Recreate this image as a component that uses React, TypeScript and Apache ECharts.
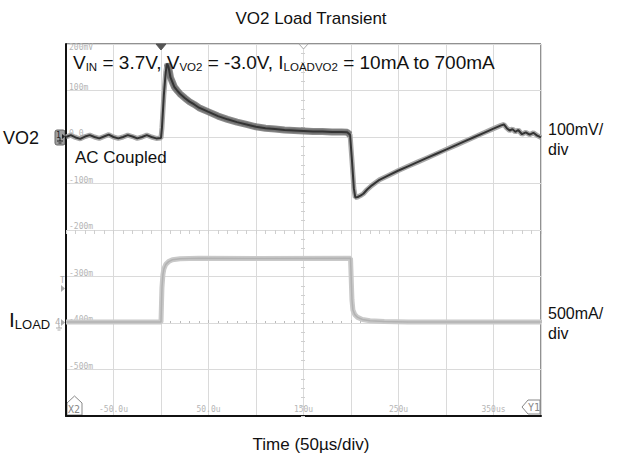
import React, { useEffect, useRef } from "react";
import * as echarts from "echarts";

// VO2 trace (time in µs, voltage in mV, AC coupled)
const timeVO2 = [
  -100, -95, -90, -85, -80, -75, -70, -65, -60, -55, -50, -45, -40, -35, -30, -25, -20, -15, -10, -5, 0,
  1, 3, 5, 6.5, 8, 10, 12, 14, 17, 20, 25, 30, 35, 40, 50, 60, 70, 80, 90, 100, 110, 120, 130, 140, 150,
  160, 170, 180, 190, 196, 199, 201, 203, 204.5, 207, 210, 213, 217, 222, 230, 240, 250, 260, 270, 280,
  290, 300, 310, 320, 330, 340, 350, 358, 361, 364, 367, 370, 373, 376, 380, 384, 388, 392, 396, 400,
];
const vo2mV = [
  0, 4, -1, -4, 1, 4, 0, -3, 1, 5, 0, -3, 0, 4, 1, -3, 0, 4, 0, -3, -2,
  20, 90, 140, 158, 150, 128, 118, 108, 100, 93, 84, 76, 70, 63, 54, 45, 38, 32, 27, 22, 19, 17, 15, 14, 13,
  12, 12, 11, 11, 10, 5, -50, -110, -130, -129, -126, -122, -113, -104, -92, -82, -72, -63, -54, -45,
  -36, -27, -18, -9, 0, 9, 18, 25, 27, 19, 14, 17, 11, 15, 6, 10, 5, 9, 3, -1,
];

// ILOAD trace (time in µs, current in mA)
const timeILoad = [
  -100, 0, 0.5, 1, 2, 3, 5, 8, 12, 20, 40, 100, 199.5, 200, 201, 202, 204, 207, 212, 220, 235, 260, 400,
];
const iLoadmA = [
  10, 10, 200, 380, 520, 580, 630, 660, 680, 690, 695, 693, 695, 690, 250, 140, 90, 60, 38, 25, 16, 12, 10,
];

// Oscilloscope graticule labels
const xLabelValues = [-50, 50, 150, 250, 350];
const xLabelTexts = ["-50.0u", "50.0u", "150u", "250u", "350us"];
const yLabelValues = [200, 100, 0, -100, -200, -300, -400, -500];
const yLabelTexts = ["200mV", "100m", "0.0", "-100m", "-200m", "-300m", "-400m", "-500m"];

const FONT = "Liberation Sans, Arial, sans-serif";
const MONO = "DejaVu Sans Mono, monospace";

export default function App() {
  const ref = useRef<HTMLDivElement>(null);

  useEffect(() => {
    if (!ref.current) return;
    const chart = echarts.init(ref.current, undefined, { renderer: "svg" });

    const vo2Data = timeVO2.map((t, i) => [t, vo2mV[i]]);
    const vo2Noisy = vo2Data.filter((d) => d[0] >= 6 && d[0] <= 199);
    const iData = timeILoad.map((t, i) => [t, iLoadmA[i]]);

    const gridColor = "#dadada";

    const option: any = {
      animation: false,
      backgroundColor: "#ffffff",
      grid: {
        left: 66,
        top: 44,
        width: 475,
        height: 372,
        show: true,
        borderColor: "#222",
        borderWidth: 1,
        backgroundColor: "transparent",
      },
      xAxis: [
        {
          type: "value",
          min: -100,
          max: 400,
          interval: 50,
          axisLine: { show: true, onZero: false, lineStyle: { color: "#111", width: 2 } },
          axisTick: { show: false },
          splitLine: { show: true, lineStyle: { color: gridColor, width: 1 } },
          axisLabel: {
            inside: true,
            margin: 3,
            fontSize: 8,
            color: "#b5b5b5",
            fontFamily: MONO,
            showMinLabel: true,
            showMaxLabel: true,
            formatter: (v: number) => {
              const i = xLabelValues.indexOf(v);
              return i >= 0 ? xLabelTexts[i] : "";
            },
          },
        },
        {
          type: "value",
          min: -100,
          max: 400,
          interval: 50,
          position: "bottom",
          offset: -186,
          axisLine: { show: false },
          axisTick: { show: true, length: 4, lineStyle: { color: "#cfcfcf" } },
          minorTick: { show: true, splitNumber: 5, length: 4, lineStyle: { color: "#cfcfcf" } },
          axisLabel: { show: false },
          splitLine: { show: false },
        },
        {
          type: "value",
          min: -100,
          max: 400,
          interval: 50,
          position: "bottom",
          offset: 0,
          axisLine: { show: false },
          axisTick: { show: true, inside: true, length: 3, lineStyle: { color: "#bbb" } },
          minorTick: { show: true, splitNumber: 5, length: 2, lineStyle: { color: "#bbb" } },
          axisLabel: { show: false },
          splitLine: { show: false },
        },
      ],
      yAxis: [
        {
          type: "value",
          min: -600,
          max: 200,
          interval: 100,
          axisLine: { show: true, onZero: false, lineStyle: { color: "#111", width: 2 } },
          axisTick: { show: false },
          splitLine: { show: true, lineStyle: { color: gridColor, width: 1 } },
          axisLabel: {
            inside: true,
            margin: 3,
            fontSize: 8,
            color: "#b5b5b5",
            fontFamily: MONO,
            showMaxLabel: true,
            padding: [0, 0, 7, 0],
            formatter: (v: number) => {
              const i = yLabelValues.indexOf(v);
              if (i < 0) return "";
              return i === 0 ? "{top|" + yLabelTexts[i] + "}" : yLabelTexts[i];
            },
            rich: { top: { fontSize: 8, color: "#b5b5b5", fontFamily: MONO, padding: [14, 0, 0, 0] } },
          },
        },
        {
          type: "value",
          min: -1000,
          max: 3000,
          show: false,
        },
        {
          type: "value",
          min: -600,
          max: 200,
          interval: 100,
          position: "left",
          offset: -239,
          axisLine: { show: false },
          axisTick: { show: true, length: 4, lineStyle: { color: "#cfcfcf" } },
          minorTick: { show: true, splitNumber: 5, length: 4, lineStyle: { color: "#cfcfcf" } },
          axisLabel: { show: false },
          splitLine: { show: false },
        },
      ],
      series: [
        {
          name: "ILOAD band",
          type: "line",
          yAxisIndex: 1,
          data: iData,
          showSymbol: false,
          symbol: "none",
          lineStyle: { color: "#c9c9c9", width: 5 },
          z: 2,
        },
        {
          name: "ILOAD",
          type: "line",
          yAxisIndex: 1,
          data: iData,
          showSymbol: false,
          symbol: "none",
          lineStyle: { color: "#b2b2b2", width: 1.5 },
          z: 3,
        },
        {
          name: "VO2 halo",
          type: "line",
          data: vo2Data,
          showSymbol: false,
          symbol: "none",
          lineStyle: { color: "#a8a8a8", width: 5 },
          z: 4,
        },
        {
          name: "VO2 noise",
          type: "line",
          data: vo2Noisy,
          showSymbol: false,
          symbol: "none",
          lineStyle: { color: "rgba(100,100,100,0.75)", width: 7 },
          z: 5,
        },
        {
          name: "VO2",
          type: "line",
          data: vo2Data,
          showSymbol: false,
          symbol: "none",
          lineStyle: { color: "#333333", width: 2 },
          z: 6,
        },
      ],
      graphic: [
        {
          type: "text",
          x: 311,
          y: 18,
          style: { text: "VO2 Load Transient", font: `17px ${FONT}`, fill: "#111", align: "center", verticalAlign: "middle" },
        },
        {
          type: "text",
          x: 311,
          y: 444,
          style: { text: "Time (50µs/div)", font: `17px ${FONT}`, fill: "#111", align: "center", verticalAlign: "middle" },
        },
        {
          type: "text",
          x: 3,
          y: 138,
          style: { text: "VO2", font: `18px ${FONT}`, fill: "#111", verticalAlign: "middle" },
        },
        {
          type: "text",
          x: 9,
          y: 319,
          style: {
            text: "{n|I}{s|LOAD}",
            verticalAlign: "middle",
            rich: {
              n: { font: `21px ${FONT}`, fill: "#111", color: "#111", lineHeight: 22 },
              s: { font: `13px ${FONT}`, fill: "#111", color: "#111", padding: [10, 0, 0, 0], lineHeight: 22 },
            },
          },
        },
        {
          type: "text",
          x: 548,
          y: 139,
          style: { text: "100mV/\ndiv", font: `16px ${FONT}`, fill: "#111", verticalAlign: "middle", lineHeight: 20 },
        },
        {
          type: "text",
          x: 548,
          y: 323,
          style: { text: "500mA/\ndiv", font: `16px ${FONT}`, fill: "#111", verticalAlign: "middle", lineHeight: 20 },
        },
        {
          type: "text",
          x: 73,
          y: 62,
          z: 100,
          style: {
            text: "{n|V}{s|IN}{n| = 3.7V, V}{s|VO2}{n| = -3.0V, I}{s|LOADVO2}{n| = 10mA to 700mA}",
            verticalAlign: "middle",
            rich: {
              n: { font: `19px ${FONT}`, fill: "#111", color: "#111", lineHeight: 22 },
              s: { font: `11.5px ${FONT}`, fill: "#111", color: "#111", padding: [10, 0, 0, 0], lineHeight: 22 },
            },
          },
        },
        {
          type: "text",
          x: 75,
          y: 157,
          z: 100,
          style: { text: "AC Coupled", font: `17px ${FONT}`, fill: "#111", verticalAlign: "middle" },
        },
        // trigger position markers (top)
        {
          type: "polygon",
          z: 100,
          shape: { points: [[156, 44], [166, 44], [161, 50]] },
          style: { fill: "#555", stroke: "#555" },
        },
        {
          type: "polygon",
          z: 100,
          shape: { points: [[299, 44], [308, 44], [303.5, 49]] },
          style: { fill: "#fff", stroke: "#aaa", lineWidth: 1 },
        },
        // VO2 channel ground marker
        {
          type: "group",
          z: 100,
          children: [
            {
              type: "rect",
              shape: { x: 55, y: 130, width: 10, height: 15, r: 2 },
              style: { fill: "#9d9d9d", stroke: "#666", lineWidth: 1 },
            },
            { type: "text", x: 56, y: 131, style: { text: "1", font: `8px ${MONO}`, fill: "#222" } },
            { type: "line", shape: { x1: 60, y1: 138, x2: 60, y2: 141 }, style: { stroke: "#222", lineWidth: 1 } },
            { type: "line", shape: { x1: 57, y1: 141, x2: 63, y2: 141 }, style: { stroke: "#222", lineWidth: 1 } },
            { type: "line", shape: { x1: 58.5, y1: 143, x2: 61.5, y2: 143 }, style: { stroke: "#222", lineWidth: 1 } },
            { type: "polygon", shape: { points: [[62, 134], [65, 136.5], [62, 139]] }, style: { fill: "#222" } },
          ],
        },
        // ILOAD channel ground marker
        {
          type: "group",
          z: 100,
          children: [
            { type: "text", x: 55, y: 317, style: { text: "4", font: `9px ${MONO}`, fill: "#aaa" } },
            { type: "polygon", shape: { points: [[61, 319], [65, 322.5], [61, 326]] }, style: { fill: "#aaa" } },
            { type: "line", shape: { x1: 59, y1: 325, x2: 59, y2: 328 }, style: { stroke: "#aaa", lineWidth: 1 } },
            { type: "line", shape: { x1: 56, y1: 328, x2: 62, y2: 328 }, style: { stroke: "#aaa", lineWidth: 1 } },
            { type: "line", shape: { x1: 57.5, y1: 330, x2: 60.5, y2: 330 }, style: { stroke: "#aaa", lineWidth: 1 } },
          ],
        },
        // trigger level marker
        {
          type: "group",
          z: 100,
          children: [
            { type: "text", x: 60, y: 276, style: { text: "T", font: `8px ${MONO}`, fill: "#aaa" } },
            { type: "polygon", shape: { points: [[61, 285], [65, 288.5], [61, 292]] }, style: { fill: "#aaa" } },
          ],
        },
        // X2 and Y1 cursor markers
        {
          type: "group",
          z: 100,
          children: [
            {
              type: "polygon",
              shape: { points: [[67, 415], [67, 403], [74.5, 396], [82, 403], [82, 415]] },
              style: { fill: "#fff", stroke: "#888", lineWidth: 1 },
            },
            { type: "text", x: 68, y: 404, style: { text: "X2", font: `10px ${MONO}`, fill: "#888" } },
            {
              type: "polygon",
              shape: { points: [[540, 400], [528, 400], [522, 407], [528, 414], [540, 414]] },
              style: { fill: "#fff", stroke: "#888", lineWidth: 1 },
            },
            { type: "text", x: 528, y: 402, style: { text: "Y1", font: `10px ${MONO}`, fill: "#888" } },
          ],
        },
      ],
    };

    chart.setOption(option);
    return () => chart.dispose();
  }, []);

  return (
    <div
      ref={ref}
      style={{ position: "fixed", left: 0, top: 0, width: 623, height: 465, background: "#fff" }}
    />
  );
}
